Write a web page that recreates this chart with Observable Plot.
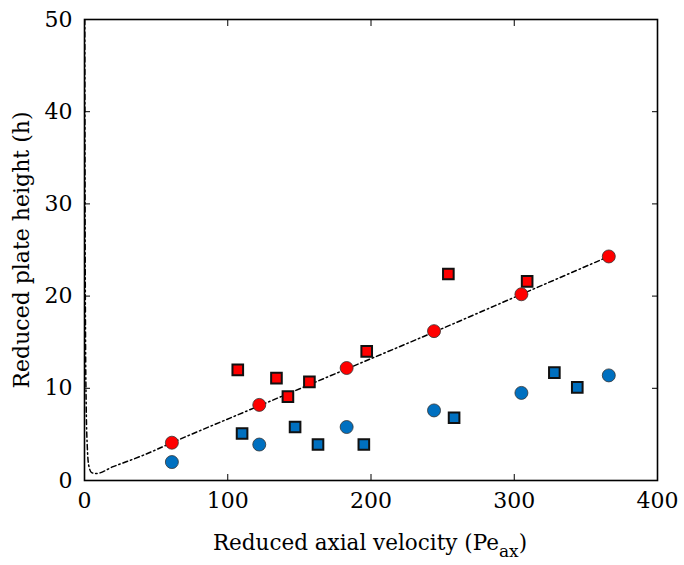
<!DOCTYPE html>
<html>
<head>
<meta charset="utf-8">
<script src="https://cdn.jsdelivr.net/npm/d3@7"></script>
<script src="https://cdn.jsdelivr.net/npm/@observablehq/plot@0.6"></script>
<style>
  html, body { margin: 0; padding: 0; background: #fff; }
  #chart { width: 684px; height: 565px; }
</style>
</head>
<body>
<div id="chart"></div>
<script>
// Data
const circleX      = [61, 122, 183, 244, 305, 366];
const redCircleY   = [4.1, 8.2, 12.2, 16.2, 20.2, 24.3];
const blueCircleY  = [2.0, 3.9, 5.8, 7.6, 9.5, 11.4];
const redSquareX   = [107, 134, 142, 157, 197, 254, 309];
const redSquareY   = [12.0, 11.1, 9.1, 10.7, 14.0, 22.4, 21.6];
const blueSquareX  = [110, 147, 163, 195, 258, 328, 344];
const blueSquareY  = [5.1, 5.8, 3.9, 3.9, 6.8, 11.7, 10.1];
const curveX       = [0.2, 0.4, 0.7, 1.2, 2, 3, 5, 8, 20, 42, 61, 122, 183, 244, 305, 366];
const curveY       = [50, 30, 16, 8, 3.5, 1.6, 0.85, 0.75, 1.5, 2.8, 4.1, 8.1, 12.1, 16.1, 20.2, 24.3];
const xTicks = [0, 100, 200, 300, 400];
const yTicks = [0, 10, 20, 30, 40, 50];

const zip = (xs, ys) => xs.map((x, i) => ({x, y: ys[i]}));
const redCircles = zip(circleX, redCircleY);
const blueCircles = zip(circleX, blueCircleY);
const redSquares = zip(redSquareX, redSquareY);
const blueSquares = zip(blueSquareX, blueSquareY);
const curve = zip(curveX, curveY);

const RED = "#ff0000", BLUE = "#0070c0";
const FONT = "DejaVu Serif";

const chart = Plot.plot({
  width: 684,
  height: 565,
  marginLeft: 84,
  marginRight: 27,
  marginTop: 19,
  marginBottom: 85,
  style: {fontFamily: FONT, fontSize: "22px", color: "#000", background: "#fff", overflow: "visible"},
  x: {domain: [0, 400], ticks: xTicks, label: null},
  y: {domain: [0, 50], ticks: yTicks, label: null},
  marks: [
    Plot.axisX({ticks: xTicks, anchor: "bottom", tickSize: -6, tickPadding: 18, fontSize: 22, label: null}),
    Plot.axisX({ticks: xTicks, anchor: "top", tickSize: -6, tickFormat: () => "", label: null}),
    Plot.axisY({ticks: yTicks, anchor: "left", tickSize: -6, tickPadding: 18, fontSize: 22, label: null}),
    Plot.axisY({ticks: yTicks, anchor: "right", tickSize: -6, tickFormat: () => "", label: null}),
    Plot.line(curve, {x: "x", y: "y", stroke: "#000", strokeWidth: 1.5, strokeDasharray: "5,3,1.5,3", curve: "monotone-x", clip: true}),
    Plot.dot(blueSquares, {x: "x", y: "y", symbol: "square", r: 6, fill: BLUE, stroke: "#111", strokeWidth: 2}),
    Plot.dot(redSquares, {x: "x", y: "y", symbol: "square", r: 6, fill: RED, stroke: "#111", strokeWidth: 2}),
    Plot.dot(blueCircles, {x: "x", y: "y", r: 6.5, fill: BLUE, stroke: "#333", strokeWidth: 0.8}),
    Plot.dot(redCircles, {x: "x", y: "y", r: 6.5, fill: RED, stroke: "#333", strokeWidth: 0.8}),
    Plot.frame({stroke: "#000", strokeWidth: 1.6})
  ]
});

// Axis titles (with subscript)
const svg = d3.select(chart);
svg.append("text")
  .attr("x", 370).attr("y", 550)
  .attr("text-anchor", "middle")
  .attr("font-family", FONT).attr("font-size", 21.5).attr("fill", "#000")
  .call(t => {
    t.append("tspan").text("Reduced axial velocity (Pe");
    t.append("tspan").attr("font-size", 17).attr("dy", 7).text("ax");
    t.append("tspan").attr("dy", -7).text(")");
  });
svg.append("text")
  .attr("transform", "translate(29,250) rotate(-90)")
  .attr("text-anchor", "middle")
  .attr("font-family", FONT).attr("font-size", 22).attr("fill", "#000")
  .text("Reduced plate height (h)");

document.getElementById("chart").appendChild(chart);
</script>
</body>
</html>
